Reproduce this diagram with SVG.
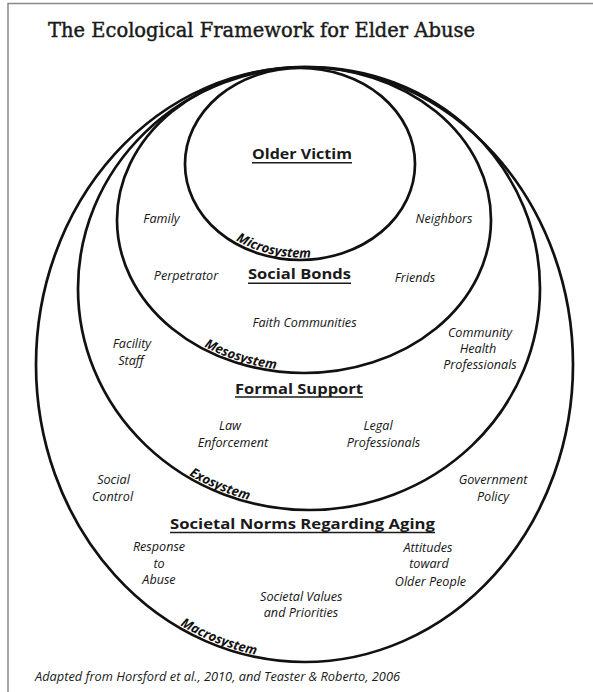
<svg xmlns="http://www.w3.org/2000/svg" width="593" height="692" viewBox="0 0 593 692">
<defs>
<style>
.ring{fill:none;stroke:#111;stroke-width:2.7}
.title{font-family:"DejaVu Serif","Liberation Serif",serif;font-size:21px;fill:#1a1a1a;stroke:#1a1a1a;stroke-width:0.45}
.head{font-family:"Open Sans","Noto Sans",sans-serif;font-weight:bold;font-size:15px;fill:#1a1a1a;text-anchor:middle}
.ul{stroke:#1a1a1a;stroke-width:1.5}
.it{font-family:"Open Sans","Noto Sans",sans-serif;font-style:italic;font-size:12.6px;fill:#151515;text-anchor:middle}
.sys{font-family:"Open Sans","Noto Sans",sans-serif;font-style:italic;font-weight:bold;font-size:13px;fill:#111}
.foot{font-family:"Open Sans","Noto Sans",sans-serif;font-style:italic;font-size:12px;fill:#1a1a1a}
</style>
<path id="pMicro" d="M 236 240.3 A 113 94 0 0 0 350 248.3"/>
<path id="pMeso" d="M 204 346.5 A 185 151 0 0 0 350 366.3"/>
<path id="pExo" d="M 189 474.9 A 229 219.5 0 0 0 350 504.4"/>
<path id="pMacro" d="M 180 625.2 A 266.5 295.5 0 0 0 350 655.7"/>
</defs>
<rect width="593" height="692" fill="#fff"/>
<path d="M 8 692 V 3.5 H 593" fill="none" stroke="#888" stroke-width="1.5"/>
<text class="title" x="48" y="37" textLength="427" lengthAdjust="spacingAndGlyphs">The Ecological Framework for Elder Abuse</text>

<g id="macrosystem">
<ellipse class="ring" cx="304.5" cy="364.5" rx="268.5" ry="297.5"/>
<text class="head" x="302.5" y="529" textLength="265" lengthAdjust="spacingAndGlyphs">Societal Norms Regarding Aging</text>
<line class="ul" x1="170" y1="532.5" x2="435" y2="532.5"/>
<text class="it" x="113.5" y="484">Social</text>
<text class="it" x="112.5" y="500.7">Control</text>
<text class="it" x="493" y="484">Government</text>
<text class="it" x="493" y="500.7">Policy</text>
<text class="it" x="159" y="550.7">Response</text>
<text class="it" x="159" y="567.7">to</text>
<text class="it" x="159" y="584.3">Abuse</text>
<text class="it" x="428" y="551.7">Attitudes</text>
<text class="it" x="429" y="568.3">toward</text>
<text class="it" x="430.5" y="585.7">Older People</text>
<text class="it" x="301.3" y="600.7">Societal Values</text>
<text class="it" x="301" y="617.3">and Priorities</text>
<text class="sys"><textPath href="#pMacro">Macrosystem</textPath></text>
</g>

<g id="exosystem">
<ellipse class="ring" cx="309" cy="288.5" rx="231" ry="221.5"/>
<text class="head" x="299" y="394" textLength="128" lengthAdjust="spacingAndGlyphs">Formal Support</text>
<line class="ul" x1="235" y1="397" x2="363" y2="397"/>
<text class="it" x="132" y="348">Facility</text>
<text class="it" x="131" y="365">Staff</text>
<text class="it" x="480" y="336.7">Community</text>
<text class="it" x="478" y="353.3">Health</text>
<text class="it" x="480" y="369.3">Professionals</text>
<text class="it" x="230" y="430">Law</text>
<text class="it" x="233" y="447.3">Enforcement</text>
<text class="it" x="378" y="430">Legal</text>
<text class="it" x="383.5" y="446.7">Professionals</text>
<text class="sys"><textPath href="#pExo">Exosystem</textPath></text>
</g>

<g id="mesosystem">
<ellipse class="ring" cx="304" cy="220" rx="187" ry="153"/>
<text class="head" x="299.5" y="279.3" textLength="103" lengthAdjust="spacingAndGlyphs">Social Bonds</text>
<line class="ul" x1="248" y1="283.3" x2="351" y2="283.3"/>
<text class="it" x="161.5" y="223.3">Family</text>
<text class="it" x="444" y="222.7">Neighbors</text>
<text class="it" x="186" y="280">Perpetrator</text>
<text class="it" x="415" y="281.7">Friends</text>
<text class="it" x="304.5" y="326.7">Faith Communities</text>
<text class="sys"><textPath href="#pMeso">Mesosystem</textPath></text>
</g>

<g id="microsystem">
<ellipse class="ring" cx="300" cy="164" rx="115" ry="96"/>
<text class="head" x="302" y="159.3" textLength="100" lengthAdjust="spacingAndGlyphs">Older Victim</text>
<line class="ul" x1="252" y1="162.7" x2="352" y2="162.7"/>
<text class="sys"><textPath href="#pMicro">Microsystem</textPath></text>
</g>

<text class="foot" x="35" y="680.7" textLength="365" lengthAdjust="spacingAndGlyphs">Adapted from Horsford et al., 2010, and Teaster &amp; Roberto, 2006</text>
</svg>
